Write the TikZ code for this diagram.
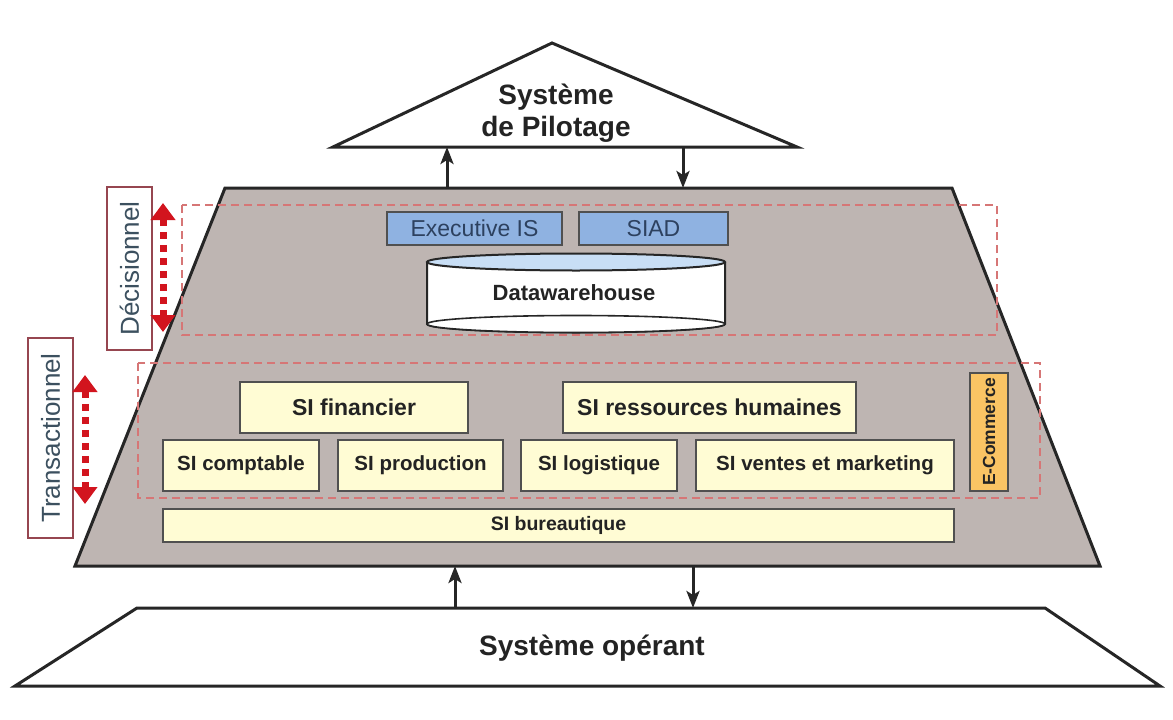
\documentclass[tikz,border=0pt]{standalone}
\usepackage{fontspec}
\setmainfont{Liberation Sans}
\usetikzlibrary{arrows.meta}
\definecolor{trapgray}{RGB}{190,181,178}
\definecolor{dashred}{RGB}{214,118,118}
\definecolor{boxborder}{RGB}{80,80,80}
\definecolor{yellowfill}{RGB}{255,252,212}
\definecolor{bluefill}{RGB}{143,178,225}
\definecolor{bluetext}{RGB}{45,65,95}
\definecolor{orangefill}{RGB}{250,196,100}
\definecolor{labelborder}{RGB}{150,70,80}
\definecolor{labeltext}{RGB}{60,80,95}
\definecolor{redarrow}{RGB}{210,20,30}
\definecolor{dwtop}{RGB}{200,222,245}
\definecolor{inktext}{RGB}{35,35,35}
\newcommand{\fs}[1]{\fontsize{#1}{#1}\selectfont}
\begin{document}
\begin{tikzpicture}[x=1pt,y=-1pt,
  outline/.style={draw=black!85,line width=3pt,line join=miter},
  yb/.style={draw=boxborder,line width=2pt,fill=yellowfill,inner sep=0pt,text=inktext,font=\bfseries},
  bb/.style={draw=boxborder,line width=1.6pt,fill=bluefill,inner sep=0pt,text=bluetext,font=\fs{23}},
  lbl/.style={draw=labelborder,line width=1.5pt,fill=white,inner sep=0pt,text=labeltext,font=\fs{26},rotate=90},
  zone/.style={draw=dashred,line width=1.4pt,dash pattern=on 8pt off 5pt},
  flow/.style={line width=3pt,draw=black!85,-{Stealth[length=17pt,width=13pt,inset=4pt]}},
  redflow/.style={draw=redarrow,line width=7pt,dash pattern=on 7pt off 6pt,
     {Triangle[length=17pt,width=24pt]}-{Triangle[length=17pt,width=24pt]}}
]
\useasboundingbox (0,0) rectangle (1173,720);
\fill[white] (0,0) rectangle (1173,720);

% Systeme de pilotage (triangle)
\coordinate (apex) at (552,43);
\coordinate (tl) at (333,147);
\coordinate (tr) at (797,147);
\draw[outline,fill=white] (tl) -- (apex) -- (tr) -- cycle;
\node[align=center,font=\bfseries\fs{28},text=inktext,inner sep=0pt] (pilot) at (556,113) {Système\\[4pt]de Pilotage};

% Middle trapezoid
\coordinate (mtl) at (225,188);
\coordinate (mtr) at (952,188);
\coordinate (mbr) at (1100,566);
\coordinate (mbl) at (75,566);
\draw[outline,fill=trapgray] (mtl) -- (mtr) -- (mbr) -- (mbl) -- cycle;

% Systeme operant
\coordinate (btl) at (137,608);
\coordinate (btr) at (1045,608);
\coordinate (bbr) at (1160,686);
\coordinate (bbl) at (15,686);
\draw[outline,fill=white] (btl) -- (btr) -- (bbr) -- (bbl) -- cycle;
\node[font=\bfseries\fs{28},text=inktext,inner sep=0pt] (operant) at (592,648) {Système opérant};

% dashed zones
\draw[zone] (182,205) rectangle (997,335);
\draw[zone] (138,363) rectangle (1040,498);

% decisional boxes
\node[bb,minimum width=175pt,minimum height=33pt] (eis) at (474.5,228.5) {Executive IS};
\node[bb,minimum width=149pt,minimum height=33pt] (siad) at (653.5,228.5) {SIAD};

% datawarehouse cylinder
\draw[draw=black!85,line width=2pt,fill=white] (427,262) -- (427,324) arc[start angle=180,end angle=360,x radius=149pt,y radius=8.5pt] -- (725,262);
\draw[draw=black!85,line width=1.6pt,fill=white] (576,324) ellipse[x radius=149pt,y radius=8.5pt];
\draw[draw=black!85,line width=2pt,fill=dwtop] (576,262) ellipse[x radius=149pt,y radius=8.5pt];
\node[font=\bfseries\fs{22},text=inktext,inner sep=0pt] (dw) at (574,293) {Datawarehouse};

% transactional boxes
\node[yb,font=\bfseries\fs{23},minimum width=228pt,minimum height=51pt] (fin) at (354,407.5) {SI financier};
\node[yb,font=\bfseries\fs{23},minimum width=293pt,minimum height=51pt] (rh) at (709.5,407.5) {SI ressources humaines};
\node[yb,font=\bfseries\fs{20.5},minimum width=156pt,minimum height=51pt] (compta) at (241,465.5) {SI comptable};
\node[yb,font=\bfseries\fs{20.5},minimum width=165pt,minimum height=51pt] (prod) at (420.5,465.5) {SI production};
\node[yb,font=\bfseries\fs{20.5},minimum width=156pt,minimum height=51pt] (logi) at (599,465.5) {SI logistique};
\node[yb,font=\bfseries\fs{20.5},minimum width=258pt,minimum height=51pt] (ventes) at (825,465.5) {SI ventes et marketing};
\node[draw=boxborder,line width=2pt,fill=orangefill,inner sep=0pt,text=inktext,font=\bfseries\fs{17.5},
      minimum width=118pt,minimum height=38pt,rotate=90] (ecom) at (989,432) {E-Commerce};
\node[yb,font=\bfseries\fs{19.5},minimum width=791pt,minimum height=33pt] (bur) at (558.5,525.5) {SI bureautique};

% flows between systems
\coordinate (a1s) at (447,188); \coordinate (a1e) at (447,147);
\coordinate (a2s) at (683,147); \coordinate (a2e) at (683,188);
\coordinate (a3s) at (455,608); \coordinate (a3e) at (455,566);
\coordinate (a4s) at (693,566); \coordinate (a4e) at (693,608);
\draw[flow] (a1s) -- (a1e);
\draw[flow] (a2s) -- (a2e);
\draw[flow] (a3s) -- (a3e);
\draw[flow] (a4s) -- (a4e);

% side labels
\node[lbl,minimum width=163pt,minimum height=45pt] (dec) at (129.5,268.5) {Décisionnel};
\node[lbl,minimum width=200pt,minimum height=45pt] (tra) at (50.5,438) {Transactionnel};

\coordinate (r1s) at (163,203); \coordinate (r1e) at (163,332);
\coordinate (r2s) at (85,375); \coordinate (r2e) at (85,504);
\draw[redflow] (r1s) -- (r1e);
\draw[redflow] (r2s) -- (r2e);
\end{tikzpicture}
\end{document}
